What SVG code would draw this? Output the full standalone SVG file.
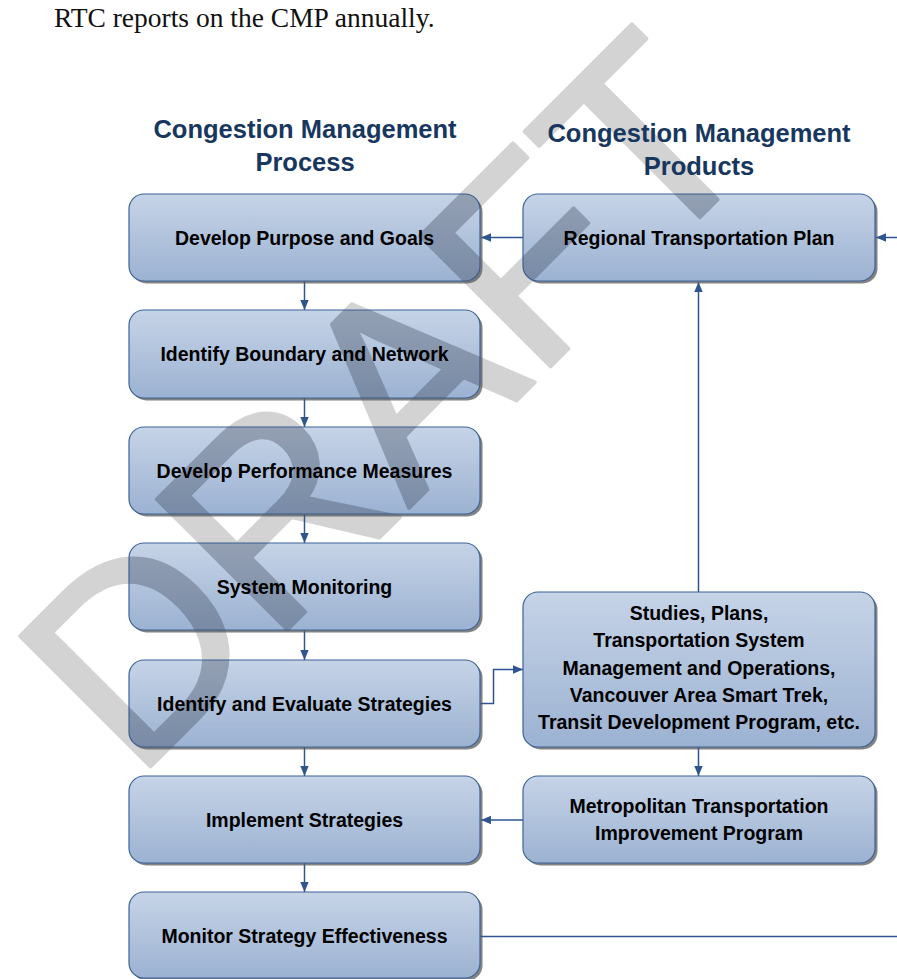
<svg xmlns="http://www.w3.org/2000/svg" width="897" height="979" viewBox="0 0 897 979">
<style>
.box{fill:url(#g);stroke:#3d6398;stroke-width:1.2}
.sh{fill:#5a5a5a;opacity:0.75}
.lbl{font-family:"Liberation Sans",Arial,sans-serif;font-weight:bold;font-size:19.5px;fill:#000;text-anchor:middle}
.hd{font-family:"Liberation Sans",Arial,sans-serif;font-weight:bold;font-size:25.5px;fill:#17375e;text-anchor:middle}
.cn{fill:none;stroke:#2f5590;stroke-width:1.5}
.wm{font-family:"Liberation Sans",Arial,sans-serif;font-size:268px;stroke-width:4;stroke-linejoin:round}
</style>
<defs>
<linearGradient id="g" x1="0" y1="0" x2="0" y2="1">
<stop offset="0" stop-color="#c6d4e7"/>
<stop offset="1" stop-color="#9cb2d2"/>
</linearGradient>
<marker id="ah" markerUnits="userSpaceOnUse" markerWidth="10" markerHeight="10" refX="10" refY="5" orient="auto">
<path d="M0,0.8 L10,5 L0,9.2 z" fill="#2f5590"/>
</marker>
<clipPath id="boxclip">
<rect x="129" y="194" width="351" height="87" rx="15"/>
<rect x="129" y="310" width="351" height="88" rx="15"/>
<rect x="129" y="427" width="351" height="87" rx="15"/>
<rect x="129" y="543" width="351" height="87" rx="15"/>
<rect x="129" y="660" width="351" height="87" rx="15"/>
<rect x="129" y="776" width="351" height="87" rx="15"/>
<rect x="129" y="892" width="351" height="86" rx="15"/>
<rect x="523" y="194" width="352" height="87" rx="15"/>
<rect x="523" y="592" width="352" height="155" rx="15"/>
<rect x="523" y="776" width="352" height="87" rx="15"/>
</clipPath>
</defs>
<rect width="897" height="979" fill="#fff"/>

<g id="watermark-back">
<text class="wm" transform="translate(135,782) rotate(-45)" x="0" y="0" fill="#d3d3d3" stroke="#d3d3d3">DRAFT</text>
</g>

<text x="54" y="27" font-family="'Liberation Serif','Times New Roman',serif" font-size="27.5" fill="#111">RTC reports on the CMP annually.</text>

<g id="heading-process">
<text class="hd" x="305" y="138">Congestion Management</text>
<text class="hd" x="305" y="171">Process</text>
</g>
<g id="heading-products">
<text class="hd" x="699" y="142">Congestion Management</text>
<text class="hd" x="699" y="175">Products</text>
</g>

<g id="connectors">
<line class="cn" x1="304.5" y1="281" x2="304.5" y2="310" marker-end="url(#ah)"/>
<line class="cn" x1="304.5" y1="398" x2="304.5" y2="427" marker-end="url(#ah)"/>
<line class="cn" x1="304.5" y1="514" x2="304.5" y2="543" marker-end="url(#ah)"/>
<line class="cn" x1="304.5" y1="630" x2="304.5" y2="660" marker-end="url(#ah)"/>
<line class="cn" x1="304.5" y1="747" x2="304.5" y2="776" marker-end="url(#ah)"/>
<line class="cn" x1="304.5" y1="863" x2="304.5" y2="892" marker-end="url(#ah)"/>
<line class="cn" x1="523" y1="237.5" x2="481" y2="237.5" marker-end="url(#ah)"/>
<line class="cn" x1="897" y1="237.5" x2="876" y2="237.5" marker-end="url(#ah)"/>
<line class="cn" x1="698.5" y1="592" x2="698.5" y2="282" marker-end="url(#ah)"/>
<line class="cn" x1="698.5" y1="747" x2="698.5" y2="776" marker-end="url(#ah)"/>
<path class="cn" d="M480,703.5 H493.5 V669.5 H523" marker-end="url(#ah)"/>
<line class="cn" x1="523" y1="820" x2="481" y2="820" marker-end="url(#ah)"/>
<line class="cn" x1="480" y1="936.5" x2="897" y2="936.5"/>
</g>

<g id="n-purpose">
<rect class="sh" x="131.5" y="196.5" width="351" height="87" rx="15"/>
<rect class="box" x="129" y="194" width="351" height="87" rx="15"/>
</g>
<g id="n-boundary">
<rect class="sh" x="131.5" y="312.5" width="351" height="88" rx="15"/>
<rect class="box" x="129" y="310" width="351" height="88" rx="15"/>
</g>
<g id="n-measures">
<rect class="sh" x="131.5" y="429.5" width="351" height="87" rx="15"/>
<rect class="box" x="129" y="427" width="351" height="87" rx="15"/>
</g>
<g id="n-monitoring">
<rect class="sh" x="131.5" y="545.5" width="351" height="87" rx="15"/>
<rect class="box" x="129" y="543" width="351" height="87" rx="15"/>
</g>
<g id="n-evaluate">
<rect class="sh" x="131.5" y="662.5" width="351" height="87" rx="15"/>
<rect class="box" x="129" y="660" width="351" height="87" rx="15"/>
</g>
<g id="n-implement">
<rect class="sh" x="131.5" y="778.5" width="351" height="87" rx="15"/>
<rect class="box" x="129" y="776" width="351" height="87" rx="15"/>
</g>
<g id="n-effectiveness">
<rect class="sh" x="131.5" y="894.5" width="351" height="86" rx="15"/>
<rect class="box" x="129" y="892" width="351" height="86" rx="15"/>
</g>
<g id="n-rtp">
<rect class="sh" x="525.5" y="196.5" width="352" height="87" rx="15"/>
<rect class="box" x="523" y="194" width="352" height="87" rx="15"/>
</g>
<g id="n-studies">
<rect class="sh" x="525.5" y="594.5" width="352" height="155" rx="15"/>
<rect class="box" x="523" y="592" width="352" height="155" rx="15"/>
</g>
<g id="n-mtip">
<rect class="sh" x="525.5" y="778.5" width="352" height="87" rx="15"/>
<rect class="box" x="523" y="776" width="352" height="87" rx="15"/>
</g>

<g id="watermark-front" clip-path="url(#boxclip)">
<text class="wm" transform="translate(135,782) rotate(-45)" x="0" y="0" fill="#3c465a" stroke="#3c465a" opacity="0.36">DRAFT</text>
</g>

<g id="labels">
<text class="lbl" x="304.5" y="244.5">Develop Purpose and Goals</text>
<text class="lbl" x="304.5" y="361">Identify Boundary and Network</text>
<text class="lbl" x="304.5" y="477.5">Develop Performance Measures</text>
<text class="lbl" x="304.5" y="593.5">System Monitoring</text>
<text class="lbl" x="304.5" y="710.5">Identify and Evaluate Strategies</text>
<text class="lbl" x="304.5" y="827">Implement Strategies</text>
<text class="lbl" x="304.5" y="943">Monitor Strategy Effectiveness</text>
<text class="lbl" x="699" y="244.5">Regional Transportation Plan</text>
<text class="lbl" x="699" y="620">Studies, Plans,</text>
<text class="lbl" x="699" y="647">Transportation System</text>
<text class="lbl" x="699" y="674.5">Management and Operations,</text>
<text class="lbl" x="699" y="701.5">Vancouver Area Smart Trek,</text>
<text class="lbl" x="699" y="729">Transit Development Program, etc.</text>
<text class="lbl" x="699" y="813">Metropolitan Transportation</text>
<text class="lbl" x="699" y="840">Improvement Program</text>
</g>
</svg>
